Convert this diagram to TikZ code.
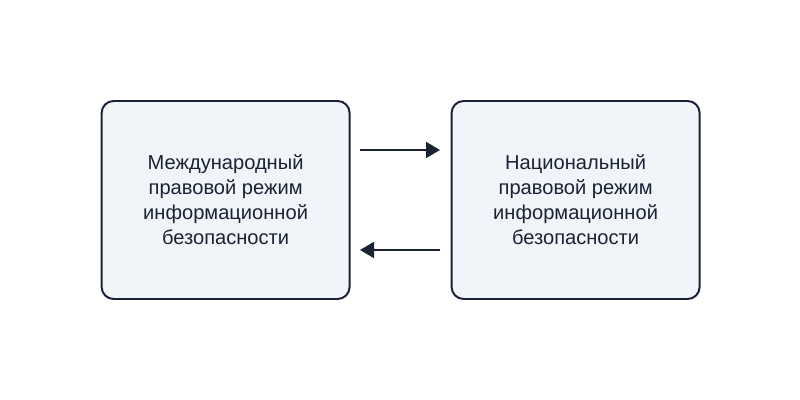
\documentclass[tikz,border=0pt]{standalone}
\usepackage{fontspec}
\setmainfont{Liberation Sans}
\usetikzlibrary{positioning,arrows.meta}
\definecolor{boxfill}{HTML}{F1F4F9}
\definecolor{ink}{HTML}{1A2233}
\tikzset{
  regime/.style={draw=ink, fill=boxfill, line width=1.4pt, rounded corners=0.3cm,
    minimum width=6.2cm, minimum height=4.95cm, align=center,
    font=\fontsize{14.3}{17.8}\selectfont, text=ink},
  link/.style={draw=ink, line width=1.4pt, -{Triangle[length=0.35cm,width=0.4cm]}}
}
\begin{document}
\begin{tikzpicture}
  \useasboundingbox (0,0) rectangle (20,10);
  \node[regime] (intl) at (5.64,5) {Международный\\правовой режим\\информационной\\безопасности};
  \node[regime] (natl) at (14.39,5) {Национальный\\правовой режим\\информационной\\безопасности};

  \coordinate (topL) at (9,6.25);
  \coordinate (topR) at (11,6.25);
  \coordinate (botL) at (9,3.75);
  \coordinate (botR) at (11,3.75);
  \draw[link] (topL) -- (topR);
  \draw[link] (botR) -- (botL);
\end{tikzpicture}
\end{document}
